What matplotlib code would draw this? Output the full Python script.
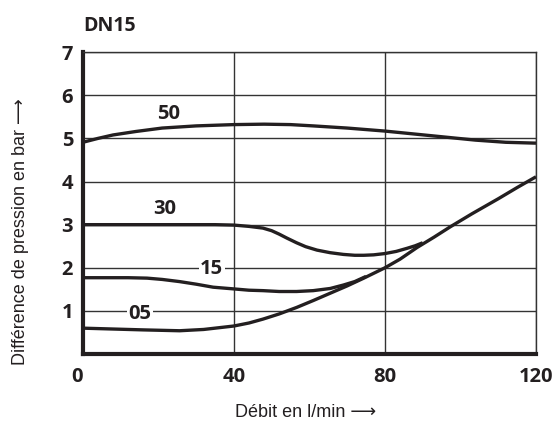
import matplotlib
matplotlib.use('Agg')
import matplotlib.pyplot as plt

plt.rcParams['font.family'] = ['Open Sans', 'DejaVu Sans']

# curves (x = Débit l/min, y = bar)
x50 = [0, 4, 8, 14, 21, 30, 40, 48, 55, 61, 70, 80, 88, 96, 104, 112, 120]
y50 = [4.91, 5.00, 5.08, 5.16, 5.24, 5.29, 5.32, 5.33, 5.32, 5.29, 5.24, 5.17, 5.10, 5.03, 4.96, 4.91, 4.89]

x30 = [0, 20, 35, 40, 44, 47.7, 50, 52, 54, 56.6, 59, 62, 65.5, 69, 72, 74.4, 77, 80, 83, 85.8, 88, 90]
y30 = [3.00, 3.00, 3.00, 2.99, 2.96, 2.92, 2.86, 2.78, 2.69, 2.58, 2.49, 2.41, 2.35, 2.31, 2.29, 2.29, 2.30, 2.33, 2.38, 2.45, 2.51, 2.58]

x15 = [0, 12, 17, 21, 25.6, 30, 34.5, 40, 44, 47.7, 52, 56.6, 61, 65.5, 69, 72, 75]
y15 = [1.77, 1.77, 1.76, 1.73, 1.68, 1.62, 1.55, 1.51, 1.48, 1.47, 1.45, 1.45, 1.47, 1.52, 1.60, 1.68, 1.80]

x05 = [0, 8, 16, 25.6, 32, 36, 40, 44, 47.7, 52, 56.6, 61, 65.5, 70, 74.4, 80, 84, 88.5, 93, 97.3, 103, 110, 115, 120]
y05 = [0.60, 0.58, 0.56, 0.54, 0.57, 0.61, 0.65, 0.72, 0.81, 0.93, 1.08, 1.24, 1.41, 1.58, 1.76, 2.00, 2.20, 2.47, 2.71, 2.95, 3.25, 3.60, 3.86, 4.11]

curve_labels = ['50', '30', '15', '05']
label_x = [22.6, 21.7, 34.1, 15.1]
label_y = [5.57, 3.36, 1.97, 0.92]

x_ticks = [0, 40, 80, 120]
y_ticks = [1, 2, 3, 4, 5, 6, 7]

INK = '#231f20'
GRID = '#333333'

fig = plt.figure(figsize=(5.56, 4.24), dpi=100)
ax = fig.add_axes([0.149, 0.165, 0.815, 0.712])

for v in y_ticks:
    ax.axhline(v, color=GRID, lw=1.0, zorder=1)
for v in x_ticks[1:]:
    ax.axvline(v, color=GRID, lw=1.0, zorder=1)

for xs, ys in [(x50, y50), (x30, y30), (x15, y15), (x05, y05)]:
    ax.plot(xs, ys, color=INK, lw=2.4, solid_capstyle='butt',
            solid_joinstyle='round', zorder=3)

for i, t in enumerate(curve_labels):
    bg = dict(facecolor='white', edgecolor='none', pad=1) if t in ('15', '05') else None
    ax.text(label_x[i], label_y[i], t, ha='center', va='center', fontsize=14.5,
            fontweight='bold', color=INK, bbox=bg, zorder=4)

ax.set_xlim(0, 120)
ax.set_ylim(0, 7)
ax.set_xticks(x_ticks)
ax.set_yticks(y_ticks)
ax.tick_params(length=0, labelsize=14.5, colors=INK)
ax.tick_params(axis='x', pad=9)
ax.tick_params(axis='y', pad=7)
for lbl in ax.get_xticklabels() + ax.get_yticklabels():
    lbl.set_fontweight('bold')
ax.get_xticklabels()[0].set_ha('right')

for side in ['top', 'right']:
    ax.spines[side].set_linewidth(1.0)
    ax.spines[side].set_color(GRID)
for side in ['left', 'bottom']:
    ax.spines[side].set_linewidth(3.0)
    ax.spines[side].set_color(INK)

lab_font = ['Liberation Sans', 'DejaVu Sans']
fig.text(0.549, 0.026, 'Débit en l/min \u27f6', fontsize=13, color=INK,
         family=lab_font, ha='center', va='center')
fig.text(0.036, 0.453, 'Différence de pression en bar \u27f6', fontsize=13, color=INK,
         family=lab_font, ha='center', va='center', rotation=90)
fig.text(0.149, 0.939, 'DN15', fontsize=14, fontweight='bold', color=INK,
         ha='left', va='center')

fig.savefig('out.png', dpi=100)
